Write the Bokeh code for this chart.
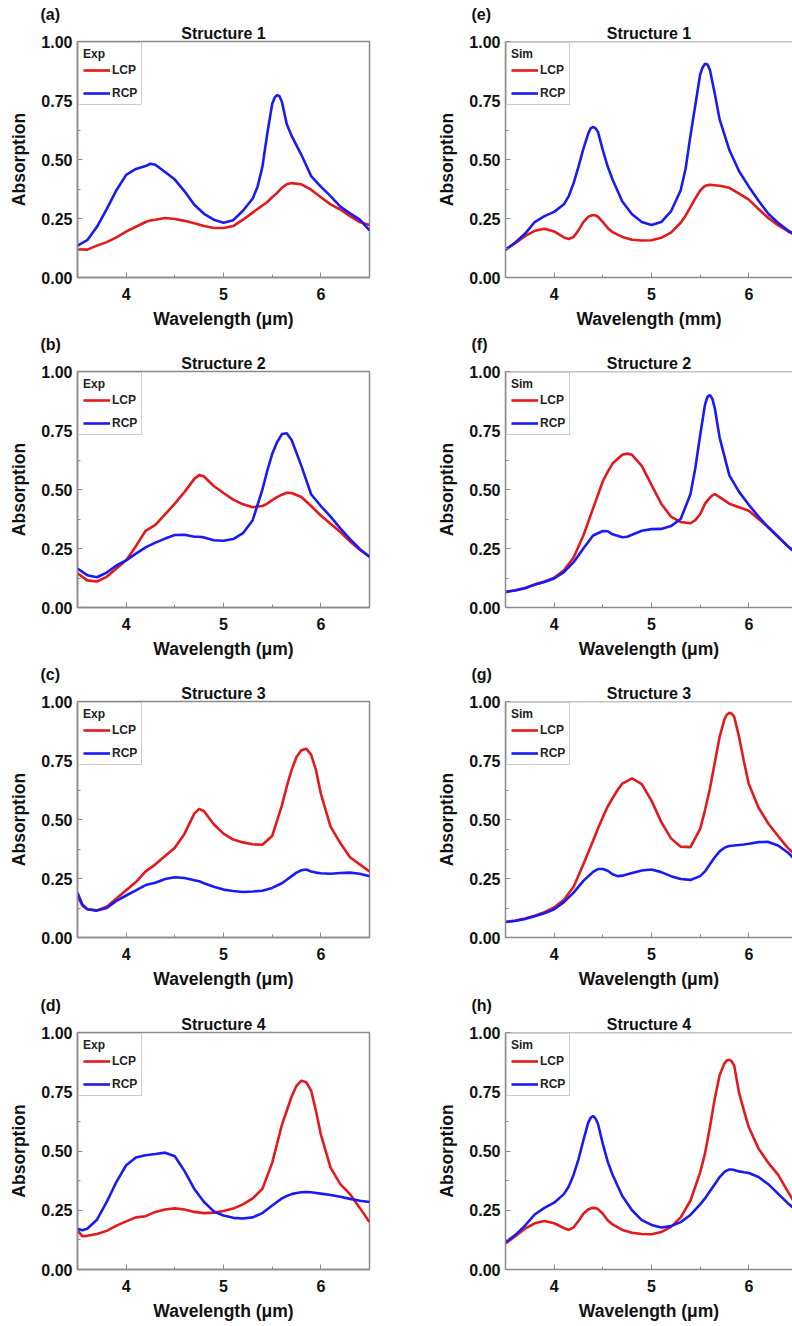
from bokeh.plotting import figure
from bokeh.layouts import column, row
from bokeh.models import Range1d, FixedTicker, PrintfTickFormatter, Span, Title
from bokeh.embed import file_html
from bokeh.resources import INLINE

# ---------------- data ----------------
x_a = [3.5,3.6,3.7,3.8,3.9,4.0,4.1,4.2,4.25,4.3,4.4,4.5,4.6,4.7,4.8,4.9,5.0,5.1,5.2,5.3,5.35,5.4,5.45,5.5,5.525,5.55,5.575,5.6,5.65,5.7,5.8,5.9,6.0,6.1,6.2,6.3,6.4,6.5]
a_lcp = [0.120,0.118,0.135,0.150,0.170,0.194,0.215,0.235,0.242,0.245,0.252,0.248,0.240,0.230,0.218,0.210,0.210,0.218,0.245,0.275,0.290,0.305,0.320,0.340,0.349,0.358,0.369,0.380,0.395,0.400,0.395,0.372,0.340,0.310,0.288,0.260,0.235,0.222]
a_rcp = [0.135,0.158,0.215,0.290,0.370,0.435,0.460,0.472,0.482,0.478,0.447,0.415,0.365,0.308,0.270,0.245,0.232,0.243,0.283,0.335,0.385,0.470,0.610,0.735,0.762,0.773,0.768,0.745,0.650,0.600,0.520,0.430,0.385,0.345,0.300,0.272,0.245,0.200]

x_e = [3.5,3.6,3.7,3.8,3.9,4.0,4.1,4.15,4.2,4.25,4.3,4.35,4.375,4.4,4.425,4.45,4.5,4.55,4.6,4.7,4.8,4.9,5.0,5.1,5.2,5.3,5.35,5.4,5.45,5.5,5.525,5.55,5.575,5.6,5.65,5.7,5.8,5.9,6.0,6.1,6.2,6.3,6.4,6.5]
e_lcp = [0.118,0.145,0.175,0.198,0.207,0.195,0.170,0.163,0.172,0.200,0.235,0.257,0.262,0.265,0.263,0.258,0.235,0.210,0.192,0.172,0.160,0.157,0.158,0.168,0.190,0.232,0.262,0.298,0.335,0.368,0.379,0.388,0.391,0.393,0.391,0.389,0.380,0.355,0.330,0.290,0.252,0.222,0.196,0.175]
e_rcp = [0.118,0.148,0.185,0.235,0.260,0.278,0.310,0.345,0.400,0.470,0.545,0.610,0.632,0.638,0.632,0.617,0.540,0.470,0.415,0.322,0.268,0.235,0.222,0.235,0.280,0.370,0.460,0.600,0.730,0.860,0.890,0.906,0.903,0.880,0.780,0.670,0.540,0.450,0.385,0.325,0.270,0.232,0.200,0.175]

x_b = [3.5,3.6,3.7,3.8,3.9,4.0,4.1,4.2,4.3,4.4,4.5,4.6,4.7,4.75,4.8,4.9,5.0,5.1,5.2,5.3,5.4,5.45,5.5,5.55,5.6,5.65,5.7,5.8,5.9,6.0,6.1,6.2,6.3,6.4,6.5]
b_lcp = [0.145,0.115,0.110,0.130,0.165,0.200,0.260,0.325,0.350,0.395,0.440,0.490,0.545,0.561,0.555,0.515,0.485,0.457,0.437,0.425,0.430,0.440,0.455,0.468,0.478,0.486,0.485,0.468,0.430,0.390,0.355,0.320,0.280,0.245,0.215]
b_rcp = [0.165,0.137,0.128,0.148,0.178,0.200,0.228,0.255,0.275,0.292,0.307,0.308,0.300,0.300,0.297,0.285,0.283,0.290,0.315,0.370,0.500,0.580,0.650,0.700,0.735,0.738,0.710,0.600,0.480,0.430,0.385,0.335,0.290,0.248,0.215]

x_f = [3.5,3.6,3.7,3.8,3.9,4.0,4.1,4.2,4.3,4.4,4.5,4.55,4.6,4.7,4.75,4.8,4.9,5.0,5.1,5.2,5.3,5.4,5.45,5.5,5.55,5.575,5.6,5.625,5.65,5.7,5.8,5.9,6.0,6.1,6.2,6.3,6.4,6.5]
f_lcp = [0.066,0.073,0.083,0.098,0.110,0.126,0.158,0.212,0.305,0.420,0.535,0.575,0.610,0.647,0.652,0.647,0.600,0.520,0.440,0.385,0.362,0.357,0.370,0.395,0.440,0.453,0.465,0.475,0.480,0.468,0.440,0.425,0.410,0.375,0.340,0.300,0.260,0.225]
f_rcp = [0.066,0.072,0.082,0.096,0.108,0.123,0.150,0.192,0.250,0.305,0.324,0.323,0.310,0.298,0.300,0.308,0.325,0.332,0.333,0.345,0.375,0.480,0.590,0.730,0.860,0.893,0.900,0.885,0.845,0.720,0.560,0.490,0.435,0.385,0.340,0.300,0.260,0.225]

x_c = [3.5,3.55,3.6,3.7,3.8,3.9,4.0,4.1,4.2,4.3,4.4,4.5,4.6,4.7,4.75,4.8,4.9,5.0,5.1,5.2,5.3,5.4,5.5,5.6,5.65,5.7,5.75,5.8,5.85,5.9,5.95,6.0,6.1,6.2,6.3,6.4,6.5]
c_lcp = [0.175,0.135,0.120,0.115,0.130,0.165,0.200,0.235,0.280,0.310,0.345,0.380,0.440,0.525,0.545,0.535,0.480,0.440,0.415,0.403,0.395,0.393,0.430,0.560,0.640,0.710,0.765,0.793,0.800,0.775,0.710,0.610,0.470,0.400,0.340,0.310,0.280]
c_rcp = [0.190,0.140,0.120,0.114,0.125,0.155,0.178,0.200,0.222,0.232,0.248,0.255,0.252,0.243,0.238,0.230,0.215,0.203,0.197,0.193,0.195,0.198,0.210,0.230,0.245,0.260,0.275,0.285,0.288,0.280,0.275,0.272,0.270,0.273,0.275,0.270,0.260]

x_g = [3.5,3.6,3.7,3.8,3.9,4.0,4.1,4.2,4.3,4.4,4.45,4.5,4.55,4.6,4.65,4.7,4.8,4.9,5.0,5.1,5.2,5.3,5.4,5.5,5.55,5.6,5.65,5.7,5.75,5.775,5.8,5.825,5.85,5.9,5.95,6.0,6.1,6.2,6.3,6.4,6.5]
g_lcp = [0.066,0.072,0.080,0.092,0.107,0.127,0.160,0.215,0.310,0.410,0.462,0.510,0.555,0.590,0.624,0.652,0.674,0.650,0.580,0.490,0.420,0.385,0.383,0.460,0.540,0.630,0.740,0.850,0.925,0.945,0.952,0.948,0.935,0.850,0.745,0.650,0.550,0.483,0.430,0.380,0.340]
g_rcp = [0.066,0.070,0.078,0.090,0.103,0.120,0.150,0.190,0.240,0.278,0.290,0.290,0.283,0.268,0.260,0.262,0.273,0.284,0.288,0.277,0.260,0.248,0.244,0.260,0.280,0.310,0.340,0.365,0.380,0.385,0.388,0.389,0.390,0.392,0.394,0.397,0.404,0.405,0.390,0.360,0.320]

x_d = [3.5,3.55,3.6,3.7,3.8,3.9,4.0,4.1,4.2,4.3,4.4,4.5,4.6,4.7,4.8,4.9,5.0,5.1,5.2,5.3,5.4,5.5,5.55,5.6,5.65,5.7,5.75,5.8,5.85,5.9,5.95,6.0,6.1,6.2,6.3,6.4,6.5]
d_lcp = [0.165,0.140,0.142,0.150,0.163,0.185,0.203,0.220,0.225,0.243,0.253,0.258,0.253,0.243,0.238,0.240,0.247,0.257,0.275,0.300,0.340,0.450,0.530,0.610,0.670,0.730,0.775,0.797,0.790,0.755,0.670,0.570,0.430,0.360,0.318,0.260,0.200]
d_rcp = [0.172,0.166,0.172,0.210,0.285,0.370,0.440,0.473,0.482,0.487,0.493,0.478,0.415,0.340,0.285,0.245,0.228,0.218,0.215,0.220,0.238,0.270,0.285,0.300,0.310,0.318,0.323,0.326,0.327,0.326,0.323,0.320,0.314,0.307,0.298,0.290,0.285]

x_h = [3.5,3.6,3.7,3.8,3.9,4.0,4.1,4.15,4.2,4.25,4.3,4.35,4.375,4.4,4.425,4.45,4.5,4.55,4.6,4.7,4.8,4.9,5.0,5.1,5.2,5.3,5.4,5.5,5.55,5.6,5.65,5.7,5.75,5.775,5.8,5.825,5.85,5.9,5.95,6.0,6.1,6.2,6.3,6.4,6.5]
h_lcp = [0.110,0.140,0.172,0.195,0.205,0.195,0.175,0.167,0.178,0.205,0.235,0.253,0.258,0.260,0.259,0.255,0.235,0.208,0.190,0.167,0.155,0.150,0.149,0.158,0.180,0.220,0.290,0.410,0.490,0.600,0.720,0.820,0.870,0.882,0.885,0.878,0.860,0.745,0.670,0.600,0.510,0.450,0.400,0.330,0.260]
h_rcp = [0.115,0.145,0.185,0.232,0.260,0.282,0.318,0.350,0.400,0.465,0.545,0.620,0.640,0.648,0.637,0.615,0.530,0.455,0.400,0.310,0.250,0.208,0.188,0.177,0.183,0.200,0.230,0.275,0.300,0.330,0.360,0.390,0.412,0.418,0.422,0.422,0.420,0.414,0.410,0.407,0.390,0.360,0.320,0.280,0.245]

panel_tags = ["(a)", "(b)", "(c)", "(d)", "(e)", "(f)", "(g)", "(h)"]
structure_titles = ["Structure 1", "Structure 2", "Structure 3", "Structure 4"]
x_labels = ["Wavelength (μm)", "Wavelength (μm)", "Wavelength (μm)", "Wavelength (μm)",
            "Wavelength (mm)", "Wavelength (μm)", "Wavelength (μm)", "Wavelength (μm)"]
legend_titles = ["Exp", "Sim"]
y_ticks = [0.0, 0.25, 0.5, 0.75, 1.0]
x_ticks = [4, 5, 6]

# ---------------- style ----------------
FONT = "Liberation Sans"
RED = "#E3191C"
BLUE = "#1A1AF5"
GRAY = "#8a8a8a"
TXT = "#111111"

series = [
    (x_a, a_lcp, a_rcp), (x_b, b_lcp, b_rcp), (x_c, c_lcp, c_rcp), (x_d, d_lcp, d_rcp),
    (x_e, e_lcp, e_rcp), (x_f, f_lcp, f_rcp), (x_g, g_lcp, g_rcp), (x_h, h_lcp, h_rcp),
]

# per-row canvas heights / borders (frame tops at 41, 371, 701, 1032)
row_heights = [331, 330, 331, 334]
row_bottoms = [54, 54, 55, 57]
row_frame = [236, 236, 236, 237]


def make_panel(idx):
    col = idx // 4
    r = idx % 4
    xs, lcp, rcp = series[idx]
    if col == 0:
        w, bl, br, xend = 400, 77, 31, 6.5
    else:
        w, bl, br, xend = 392, 105, 0, 3.5 + 287 / 97.33
    h = row_heights[r]
    bb = row_bottoms[r]
    bt = h - bb - row_frame[r]
    p = figure(width=w, height=h, output_backend="svg", toolbar_location=None,
               x_range=Range1d(3.5, xend), y_range=Range1d(0, 1.0),
               min_border_left=bl, min_border_right=br, min_border_top=bt,
               min_border_bottom=bb, background_fill_color="white",
               border_fill_color="white")
    p.grid.visible = False
    if col == 0:
        p.outline_line_color = GRAY
        p.outline_line_width = 1.5
    else:
        p.outline_line_color = None
        p.add_layout(Span(location=1.0, dimension="width", line_color=GRAY, line_width=1.5))

    p.line(xs, lcp, line_color=RED, line_width=2.6, legend_label="LCP")
    p.line(xs, rcp, line_color=BLUE, line_width=2.6, legend_label="RCP")

    p.xaxis.ticker = FixedTicker(ticks=x_ticks, minor_ticks=[3.5, 4.5, 5.5, 6.5])
    p.yaxis.ticker = FixedTicker(ticks=y_ticks, minor_ticks=[0.125, 0.375, 0.625, 0.875])
    p.yaxis.formatter = PrintfTickFormatter(format="%.2f")
    for ax in (p.xaxis, p.yaxis):
        ax.axis_line_color = GRAY
        ax.axis_line_width = 1.5
        ax.major_tick_line_color = GRAY
        ax.minor_tick_line_color = GRAY
        ax.major_tick_in = 5
        ax.major_tick_out = 0
        ax.minor_tick_in = 3
        ax.minor_tick_out = 0
        ax.major_label_text_font = FONT
        ax.major_label_text_font_style = "bold"
        ax.major_label_text_font_size = "16px"
        ax.major_label_text_color = TXT
        ax.axis_label_text_font = FONT
        ax.axis_label_text_font_style = "bold"
        ax.axis_label_text_font_size = "17.5px"
        ax.axis_label_text_color = TXT
    p.xaxis.major_label_standoff = 10
    p.yaxis.major_label_standoff = 5
    p.xaxis.axis_label_standoff = 6
    p.yaxis.axis_label_standoff = 9
    p.xaxis.axis_label = x_labels[idx]
    p.yaxis.axis_label = "Absorption"

    lg = p.legend[0]
    lg.title = legend_titles[col]
    lg.title_text_font = FONT
    lg.title_text_font_style = "bold"
    lg.title_text_font_size = "12px"
    lg.title_text_color = "#222222"
    lg.title_standoff = 2
    lg.label_text_font = FONT
    lg.label_text_font_style = "bold"
    lg.label_text_font_size = "12px"
    lg.label_text_color = "#222222"
    lg.location = "top_left"
    lg.margin = 1
    lg.padding = 4
    lg.spacing = 9
    lg.glyph_width = 27
    lg.glyph_height = 14
    lg.label_height = 14
    lg.label_standoff = 2
    lg.border_line_color = "#9a9a9a"
    lg.border_line_width = 1
    lg.background_fill_alpha = 1.0

    # inner title (closest to the frame), then the panel tag above it
    p.add_layout(Title(text=structure_titles[r], align="center", standoff=0,
                       offset=-3 if col == 0 else 0,
                       text_font=FONT, text_font_style="bold",
                       text_font_size="16px", text_color=TXT), "above")
    p.add_layout(Title(text=panel_tags[idx], align="left", standoff=0,
                       offset=-37 if col == 0 else -34,
                       text_font=FONT, text_font_style="bold",
                       text_font_size="16px", text_color=TXT), "above")
    return p


figs = [make_panel(i) for i in range(8)]
layout = column(*[row(figs[r], figs[r + 4]) for r in range(4)])

open("out.html", "w").write(file_html(layout, INLINE))
